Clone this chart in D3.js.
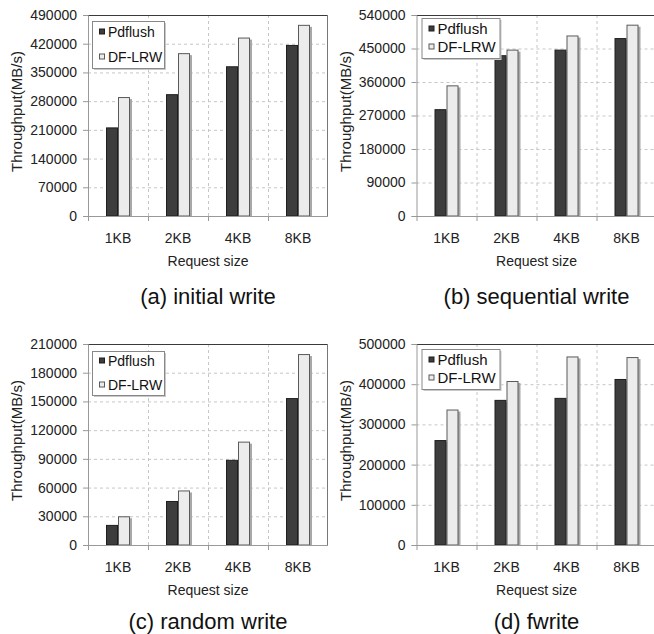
<!DOCTYPE html>
<html>
<head>
<meta charset="utf-8">
<script src="https://cdn.jsdelivr.net/npm/d3@7"></script>
<style>
  body { margin: 0; background: #fff; }
  svg { display: block; font-family: "Liberation Sans", Arial, sans-serif; }
</style>
</head>
<body>
<div id="chart"></div>
<script>
const categories = ["1KB", "2KB", "4KB", "8KB"];
const seriesNames = ["Pdflush", "DF-LRW"];

// (a) initial write
const initialPdflush = [216000, 297000, 365000, 417000];
const initialDfLrw = [290000, 397000, 435000, 466000];
// (b) sequential write
const sequentialPdflush = [287000, 432000, 447000, 478000];
const sequentialDfLrw = [351000, 447000, 485000, 514000];
// (c) random write
const randomPdflush = [21000, 46000, 89000, 153500];
const randomDfLrw = [30000, 57000, 108000, 199500];
// (d) fwrite
const fwritePdflush = [261000, 361000, 366000, 413000];
const fwriteDfLrw = [337000, 408000, 469000, 467500];

const yMaxes = [490000, 540000, 210000, 500000];
const ySteps = [70000, 90000, 30000, 100000];
const subtitles = ["(a) initial write", "(b) sequential write", "(c) random write", "(d) fwrite"];

const panelData = [
  [initialPdflush, initialDfLrw],
  [sequentialPdflush, sequentialDfLrw],
  [randomPdflush, randomDfLrw],
  [fwritePdflush, fwriteDfLrw],
];

// layout of each small chart on the page
const panels = [
  { left: 88, top: 15, legend: { x: 4, y: 6, w: 72, h: 47, font: 14, row: 25 } },
  { left: 416.5, top: 15, legend: { x: 5, y: 3, w: 78, h: 40, font: 15, row: 18 } },
  { left: 88, top: 344, legend: { x: 4, y: 7, w: 72, h: 44, font: 14, row: 24 } },
  { left: 416.5, top: 344, legend: { x: 5, y: 5, w: 78, h: 40, font: 15, row: 18 } },
];

const colors = { pd: "#3d3d3d", pdStroke: "#1e1e1e", df: "#ececec", dfStroke: "#5a5a5a" };
const W = 240, H = 201;

const svg = d3.select("#chart").append("svg")
  .attr("width", 654)
  .attr("height", 634)
  .attr("font-family", "Liberation Sans, Arial, sans-serif");

panels.forEach((p, i) => {
  const [pd, df] = panelData[i];
  const g = svg.append("g").attr("transform", `translate(${p.left},${p.top})`);

  const x = d3.scaleBand().domain(categories).range([0, W]);
  const xs = d3.scaleBand().domain(seriesNames).range([0, x.bandwidth()])
    .paddingInner(0).paddingOuter(1.5);
  const y = d3.scaleLinear().domain([0, yMaxes[i]]).range([H, 0]);
  const ticks = d3.range(0, yMaxes[i] + 1, ySteps[i]);

  // dashed grid
  g.append("g").selectAll("line")
    .data(ticks.slice(1, -1))
    .enter().append("line")
    .attr("x1", 0).attr("x2", W)
    .attr("y1", (d) => y(d) + 0.5).attr("y2", (d) => y(d) + 0.5)
    .attr("stroke", "#c6c6c6")
    .attr("stroke-dasharray", "3,3");

  g.append("g").selectAll("line")
    .data(categories.slice(1))
    .enter().append("line")
    .attr("x1", (d) => x(d) + 0.5).attr("x2", (d) => x(d) + 0.5)
    .attr("y1", 0).attr("y2", H)
    .attr("stroke", "#c6c6c6")
    .attr("stroke-dasharray", "3,3");

  // plot frame
  g.append("line").attr("x1", 0).attr("x2", W).attr("y1", 0.5).attr("y2", 0.5)
    .attr("stroke", "#3a3a3a");
  g.append("line").attr("x1", W - 0.5).attr("x2", W - 0.5).attr("y1", 0).attr("y2", H)
    .attr("stroke", "#777");

  // bars
  const rows = categories.map((c, k) => ({ cat: c, values: [pd[k], df[k]] }));
  const groups = g.append("g").selectAll("g")
    .data(rows)
    .enter().append("g")
    .attr("transform", (d) => `translate(${x(d.cat)},0)`);

  const bars = groups.selectAll("g")
    .data((d) => d.values.map((v, s) => ({ name: seriesNames[s], value: v })))
    .enter().append("g");

  bars.append("rect")
    .attr("x", (d) => xs(d.name) + 2)
    .attr("y", (d) => y(d.value) + 2)
    .attr("width", xs.bandwidth())
    .attr("height", (d) => H - y(d.value) - 2)
    .attr("fill", "#a8a8a8");

  bars.append("rect")
    .attr("x", (d) => xs(d.name) + 0.5)
    .attr("y", (d) => y(d.value) + 0.5)
    .attr("width", xs.bandwidth() - 1)
    .attr("height", (d) => H - y(d.value) - 0.5)
    .attr("fill", (d) => (d.name === "Pdflush" ? colors.pd : colors.df))
    .attr("stroke", (d) => (d.name === "Pdflush" ? colors.pdStroke : colors.dfStroke))
    .attr("stroke-width", 1);

  // y axis
  const yAxis = g.append("g")
    .call(d3.axisLeft(y).tickValues(ticks).tickFormat(d3.format("d"))
      .tickSize(5).tickPadding(6));
  yAxis.select(".domain").attr("stroke", "#999");
  yAxis.selectAll(".tick line").attr("stroke", "#999");
  yAxis.selectAll("text").attr("font-size", 14).attr("fill", "#222")
    .attr("font-family", "Liberation Sans, Arial, sans-serif");

  // x axis
  g.append("line").attr("x1", 0).attr("x2", W).attr("y1", H + 0.5).attr("y2", H + 0.5)
    .attr("stroke", "#999");
  g.append("g").selectAll("line")
    .data(categories)
    .enter().append("line")
    .attr("x1", (d) => x(d) + 0.5).attr("x2", (d) => x(d) + 0.5)
    .attr("y1", H).attr("y2", H + 5)
    .attr("stroke", "#999");

  g.append("g").selectAll("text")
    .data(categories)
    .enter().append("text")
    .attr("x", (d) => x(d) + x.bandwidth() / 2)
    .attr("y", H + 27)
    .attr("text-anchor", "middle")
    .attr("font-size", 14)
    .attr("fill", "#222")
    .text((d) => d);

  g.append("text")
    .attr("x", W / 2)
    .attr("y", H + 50)
    .attr("text-anchor", "middle")
    .attr("font-size", 14)
    .attr("fill", "#222")
    .text("Request size");

  g.append("text")
    .attr("transform", `translate(-66,${H / 2 - 4}) rotate(-90)`)
    .attr("text-anchor", "middle")
    .attr("font-size", 15)
    .attr("fill", "#222")
    .text("Throughput(MB/s)");

  g.append("text")
    .attr("x", W / 2)
    .attr("y", H + (i < 2 ? 88 : 84))
    .attr("text-anchor", "middle")
    .attr("font-size", 22)
    .attr("fill", "#111")
    .text(subtitles[i]);

  // legend
  const L = p.legend;
  const lg = g.append("g").attr("transform", `translate(${L.x},${L.y})`);
  lg.append("rect").attr("x", 2).attr("y", 2).attr("width", L.w).attr("height", L.h)
    .attr("fill", "#c8c8c8");
  lg.append("rect").attr("x", 0.5).attr("y", 0.5).attr("width", L.w).attr("height", L.h)
    .attr("fill", "#fff").attr("stroke", "#888");
  seriesNames.forEach((name, s) => {
    const cy = L.h / 2 - L.row / 2 + s * L.row;
    lg.append("rect")
      .attr("x", 7.5).attr("y", cy - 3)
      .attr("width", 5).attr("height", 5)
      .attr("fill", s === 0 ? colors.pd : colors.df)
      .attr("stroke", s === 0 ? colors.pdStroke : colors.dfStroke);
    lg.append("text")
      .attr("x", 16)
      .attr("y", cy + L.font * 0.36)
      .attr("font-size", L.font)
      .attr("fill", "#111")
      .text(name);
  });
});
</script>
</body>
</html>
